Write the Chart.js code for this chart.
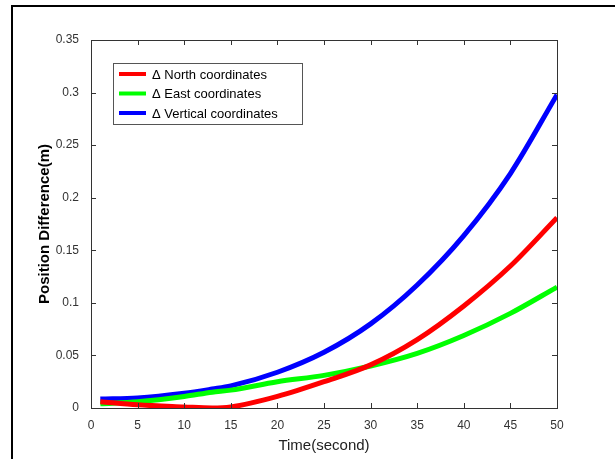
<!DOCTYPE html>
<html>
<head>
<meta charset="utf-8">
<script src="https://cdn.jsdelivr.net/npm/chart.js@4"></script>
<style>
  html, body { margin: 0; padding: 0; background: #fff; }
  #wrap { position: relative; width: 615px; height: 459px; overflow: hidden; }
  #frame { position: absolute; left: 11px; top: 5px; width: 700px; height: 500px;
           border-left: 2px solid #000; border-top: 2px solid #000; }
  canvas { position: absolute; left: 0; top: 0; }
</style>
</head>
<body>
<div id="wrap">
  <div id="frame"></div>
  <canvas id="chart" width="615" height="459"></canvas>
</div>
<script>
// time samples (seconds)
const timeSec = [1, 5, 10, 13, 15, 20, 25, 30, 35, 40, 45, 50];
// position differences (m)
const northDiff    = [0.006, 0.003, 0.001, 0.000, 0.001, 0.011, 0.025, 0.041, 0.065, 0.097, 0.135, 0.181];
const eastDiff     = [0.004, 0.006, 0.011, 0.015, 0.017, 0.025, 0.031, 0.040, 0.052, 0.069, 0.090, 0.115];
const verticalDiff = [0.0085, 0.0095, 0.014, 0.018, 0.021, 0.034, 0.053, 0.080, 0.117, 0.164, 0.223, 0.298];
const seriesLabels = ['\u0394 North coordinates', '\u0394 East coordinates', '\u0394 Vertical coordinates'];
const seriesColors = ['#ff0000', '#00ff00', '#0000ff'];
const xTicks = [0, 5, 10, 15, 20, 25, 30, 35, 40, 45, 50];
const yTicks = [0, 0.05, 0.1, 0.15, 0.2, 0.25, 0.3, 0.35];

const FONT = 'Liberation Sans, Arial, sans-serif';

const toPoints = (vals) => vals.map((v, i) => ({ x: timeSec[i], y: v }));

// box + inward ticks + legend, matlab style
const boxTicks = {
    id: 'boxTicks',
    afterDatasetsDraw(chart) {
        const { ctx, chartArea: a, scales } = chart;
        ctx.save();
        ctx.strokeStyle = '#333';
        ctx.lineWidth = 1;
        ctx.strokeRect(a.left + 0.5, a.top + 0.5, a.right - a.left, a.bottom - a.top);
        ctx.beginPath();
        xTicks.forEach(t => {
            const px = Math.round(scales.x.getPixelForValue(t)) + 0.5;
            ctx.moveTo(px, a.bottom); ctx.lineTo(px, a.bottom - 5);
            ctx.moveTo(px, a.top); ctx.lineTo(px, a.top + 5);
        });
        yTicks.forEach(t => {
            const py = Math.round(scales.y.getPixelForValue(t)) + 0.5;
            ctx.moveTo(a.left, py); ctx.lineTo(a.left + 5, py);
            ctx.moveTo(a.right, py); ctx.lineTo(a.right - 5, py);
        });
        ctx.stroke();

        // legend
        const lx = 113, ly = 63, lw = 189, lh = 61;
        ctx.fillStyle = '#fff';
        ctx.fillRect(lx, ly, lw, lh);
        ctx.strokeStyle = '#555';
        ctx.strokeRect(lx + 0.5, ly + 0.5, lw, lh);
        ctx.font = '13px ' + FONT;
        ctx.textBaseline = 'middle';
        chart.data.datasets.forEach((ds, i) => {
            const y = 74 + i * 19.5;
            ctx.strokeStyle = ds.borderColor;
            ctx.lineWidth = 4;
            ctx.beginPath();
            ctx.moveTo(119, y); ctx.lineTo(146, y);
            ctx.stroke();
            ctx.fillStyle = '#000';
            ctx.fillText(ds.label, 152, y + 1);
        });
        ctx.restore();
    }
};

new Chart(document.getElementById('chart'), {
    type: 'line',
    data: {
        datasets: [
            { label: seriesLabels[0], data: toPoints(northDiff), borderColor: seriesColors[0] },
            { label: seriesLabels[1], data: toPoints(eastDiff), borderColor: seriesColors[1] },
            { label: seriesLabels[2], data: toPoints(verticalDiff), borderColor: seriesColors[2] }
        ]
    },
    options: {
        responsive: false,
        animation: false,
        layout: { padding: { top: 40, right: 58, left: 32, bottom: 0 } },
        elements: {
            line: { borderWidth: 5, cubicInterpolationMode: 'monotone' },
            point: { radius: 0 }
        },
        plugins: { legend: { display: false }, tooltip: { enabled: false } },
        scales: {
            x: {
                type: 'linear', min: 0, max: 50,
                afterBuildTicks: (s) => { s.ticks = xTicks.map(v => ({ value: v })); },
                afterFit: (s) => { s.height = 51; },
                grid: { display: false },
                border: { display: false },
                ticks: { color: '#333', font: { family: FONT, size: 12 }, padding: 2 },
                title: { display: true, text: 'Time(second)', color: '#222',
                         font: { family: FONT, size: 15 }, padding: { top: 0 } }
            },
            y: {
                type: 'linear', min: 0, max: 0.35,
                afterBuildTicks: (s) => { s.ticks = yTicks.map(v => ({ value: v })); },
                afterFit: (s) => { s.width = 59; },
                grid: { display: false },
                border: { display: false },
                ticks: { color: '#333', font: { family: FONT, size: 12 }, padding: 4,
                         callback: (v) => String(+v.toFixed(2)) },
                title: { display: true, text: 'Position Difference(m)', color: '#000',
                         font: { family: FONT, size: 15, weight: 'bold' }, padding: { bottom: 0 } }
            }
        }
    },
    plugins: [boxTicks]
});
</script>
</body>
</html>
